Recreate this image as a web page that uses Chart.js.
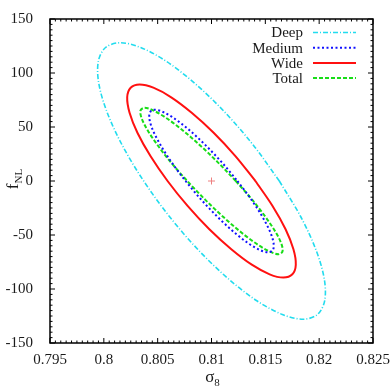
<!DOCTYPE html>
<html>
<head>
<meta charset="utf-8">
<title>sigma8 vs fNL</title>
<script src="https://cdn.jsdelivr.net/npm/chart.js@4.4.1/dist/chart.umd.min.js"></script>
<style>
  html, body { margin: 0; padding: 0; background: #fff; }
  #wrap { width: 390px; height: 389px; }
</style>
</head>
<body>
<div id="wrap"><canvas id="chart" width="390" height="389"></canvas></div>
<script>
// ===== data =====
const xTicks = [0.795, 0.8, 0.805, 0.81, 0.815, 0.82, 0.825];
const yTicks = [-150, -100, -50, 0, 50, 100, 150];
const seriesNames = ['Deep', 'Medium', 'Wide', 'Total'];

// fiducial point (+)
const fiducialX = [0.81];
const fiducialY = [0];

// contour points, traced clockwise from the right-hand fNL = 0 crossing
const deepX = [0.8163, 0.81829, 0.81971, 0.82047, 0.82051, 0.81984, 0.8185, 0.81658, 0.81421, 0.81156, 0.80879, 0.80611, 0.8037, 0.80171, 0.80029, 0.79953, 0.79949, 0.80016, 0.8015, 0.80342, 0.80579, 0.80844, 0.81121, 0.81389, 0.8163];
const deepY = [0, -33.1, -64.0, -90.5, -110.9, -123.6, -128.0, -123.6, -110.9, -90.5, -64.0, -33.1, 0, 33.1, 64.0, 90.5, 110.9, 123.6, 128.0, 123.6, 110.9, 90.5, 64.0, 33.1, 0];

const mediumX = [0.81241, 0.81369, 0.81472, 0.81543, 0.81576, 0.81571, 0.81526, 0.81446, 0.81335, 0.81201, 0.81054, 0.80903, 0.80759, 0.80631, 0.80528, 0.80457, 0.80424, 0.80429, 0.80474, 0.80554, 0.80665, 0.80799, 0.80946, 0.81097, 0.81241];
const mediumY = [0, -17.1, -33.0, -46.7, -57.2, -63.7, -66.0, -63.7, -57.2, -46.7, -33.0, -17.1, 0, 17.1, 33.0, 46.7, 57.2, 63.7, 66.0, 63.7, 57.2, 46.7, 33.0, 17.1, 0];

const wideX = [0.81408, 0.81567, 0.81688, 0.81761, 0.81783, 0.81751, 0.81668, 0.8154, 0.81374, 0.81184, 0.8098, 0.80778, 0.80592, 0.80433, 0.80312, 0.80239, 0.80217, 0.80249, 0.80332, 0.8046, 0.80626, 0.80816, 0.8102, 0.81222, 0.81408];
const wideY = [0, -23.1, -44.7, -63.2, -77.5, -86.4, -89.4, -86.4, -77.5, -63.2, -44.7, -23.1, 0, 23.1, 44.7, 63.2, 77.5, 86.4, 89.4, 86.4, 77.5, 63.2, 44.7, 23.1, 0];

const totalX = [0.81226, 0.81379, 0.81506, 0.81599, 0.81651, 0.81659, 0.81622, 0.81542, 0.81426, 0.8128, 0.81116, 0.80943, 0.80775, 0.80621, 0.80494, 0.80401, 0.80349, 0.80341, 0.80378, 0.80458, 0.80574, 0.8072, 0.80884, 0.81057, 0.81226];
const totalY = [0, -17.5, -33.9, -47.9, -58.7, -65.4, -67.8, -65.4, -58.7, -47.9, -33.9, -17.5, 0, 17.5, 33.9, 47.9, 58.7, 65.4, 67.8, 65.4, 58.7, 47.9, 33.9, 17.5, 0];

(function() {
  'use strict';

  const SERIF = '"Liberation Serif", "DejaVu Serif", serif';
  const INK = '#1a1a1a';

  function pts(xs, ys) {
    return xs.map((x, i) => ({ x: x, y: ys[i] }));
  }

  function contour(label, xs, ys, color, dash, width) {
    return {
      label: label,
      data: pts(xs, ys),
      showLine: true,
      borderColor: color,
      backgroundColor: color,
      borderWidth: width,
      borderDash: dash,
      tension: 0.33,
      pointRadius: 0,
      fill: false
    };
  }

  // ===== frame, inward ticks, legend, axis titles =====
  const decorPlugin = {
    id: 'decor',
    afterDatasetsDraw(chart) {
      const { ctx, chartArea: a, scales } = chart;
      const sx = scales.x, sy = scales.y;
      ctx.save();
      ctx.strokeStyle = '#000';
      ctx.lineWidth = 1;
      ctx.beginPath();
      for (let i = 0; i < xTicks.length; i++) {
        const px = sx.getPixelForValue(xTicks[i]);
        ctx.moveTo(px, a.bottom); ctx.lineTo(px, a.bottom - 5);
        ctx.moveTo(px, a.top); ctx.lineTo(px, a.top + 5);
        if (i < xTicks.length - 1) {
          const step = (xTicks[i + 1] - xTicks[i]) / 10;
          for (let k = 1; k < 10; k++) {
            const mx = sx.getPixelForValue(xTicks[i] + k * step);
            ctx.moveTo(mx, a.bottom); ctx.lineTo(mx, a.bottom - 2.5);
            ctx.moveTo(mx, a.top); ctx.lineTo(mx, a.top + 2.5);
          }
        }
      }
      for (let i = 0; i < yTicks.length; i++) {
        const py = sy.getPixelForValue(yTicks[i]);
        ctx.moveTo(a.left, py); ctx.lineTo(a.left + 5, py);
        ctx.moveTo(a.right, py); ctx.lineTo(a.right - 5, py);
        if (i < yTicks.length - 1) {
          const step = (yTicks[i + 1] - yTicks[i]) / 10;
          for (let k = 1; k < 10; k++) {
            const my = sy.getPixelForValue(yTicks[i] + k * step);
            ctx.moveTo(a.left, my); ctx.lineTo(a.left + 2.5, my);
            ctx.moveTo(a.right, my); ctx.lineTo(a.right - 2.5, my);
          }
        }
      }
      ctx.stroke();

      ctx.lineWidth = 1.5;
      ctx.strokeRect(a.left, a.top, a.right - a.left, a.bottom - a.top);

      // legend
      ctx.font = '15px ' + SERIF;
      ctx.fillStyle = INK;
      ctx.textAlign = 'right';
      ctx.textBaseline = 'middle';
      seriesNames.forEach((name, i) => {
        const ds = chart.data.datasets[i];
        const ly = a.top + 13.5 + i * 15.2;
        ctx.fillText(name, a.right - 70, ly + 1);
        ctx.save();
        ctx.strokeStyle = ds.borderColor;
        ctx.lineWidth = ds.borderWidth;
        ctx.setLineDash(ds.borderDash || []);
        ctx.beginPath();
        ctx.moveTo(a.right - 60, ly);
        ctx.lineTo(a.right - 17, ly);
        ctx.stroke();
        ctx.restore();
      });
      ctx.restore();
    },
    afterDraw(chart) {
      const { ctx, chartArea: a } = chart;
      ctx.save();
      ctx.fillStyle = INK;
      ctx.textBaseline = 'alphabetic';
      ctx.textAlign = 'left';
      // x title: sigma_8
      const cx = (a.left + a.right) / 2;
      ctx.font = '17px ' + SERIF;
      const sw = ctx.measureText('σ').width;
      ctx.font = '11px ' + SERIF;
      const ew = ctx.measureText('8').width;
      const x0 = cx - (sw + ew) / 2 + 1;
      ctx.font = '17px ' + SERIF;
      ctx.fillText('σ', x0, 382);
      ctx.font = '11px ' + SERIF;
      ctx.fillText('8', x0 + sw, 386);
      // y title: f_NL, rotated
      ctx.translate(18, (a.top + a.bottom) / 2 - 2);
      ctx.rotate(-Math.PI / 2);
      ctx.font = '17px ' + SERIF;
      const fw = ctx.measureText('f').width;
      ctx.font = '11px ' + SERIF;
      const nw = ctx.measureText('NL').width;
      const y0 = -(fw + nw) / 2;
      ctx.font = '17px ' + SERIF;
      ctx.fillText('f', y0, 0);
      ctx.font = '11px ' + SERIF;
      ctx.fillText('NL', y0 + fw, 4);
      ctx.restore();
    }
  };

  // ===== chart =====
  const ctx = document.getElementById('chart').getContext('2d');
  new Chart(ctx, {
    type: 'scatter',
    data: {
      datasets: [
        contour(seriesNames[0], deepX, deepY, '#22dcee', [5, 2, 1, 2], 1.6),
        contour(seriesNames[1], mediumX, mediumY, '#1010ff', [2, 2.5], 2),
        contour(seriesNames[2], wideX, wideY, '#ff1010', [], 2),
        contour(seriesNames[3], totalX, totalY, '#18dd18', [4, 2], 2),
        {
          label: 'fiducial',
          data: pts(fiducialX, fiducialY),
          pointStyle: 'cross',
          pointRadius: 3.5,
          borderColor: '#ee8080',
          borderWidth: 1,
          showLine: false
        }
      ]
    },
    options: {
      responsive: false,
      devicePixelRatio: 1,
      animation: false,
      events: [],
      layout: { padding: { top: 19, right: 17, left: 0, bottom: 0 }, autoPadding: false },
      plugins: { legend: { display: false }, tooltip: { enabled: false } },
      scales: {
        x: {
          type: 'linear',
          min: 0.795,
          max: 0.825,
          afterFit(scale) { scale.height = 46; },
          afterBuildTicks(scale) { scale.ticks = xTicks.map(v => ({ value: v })); },
          grid: { display: false },
          border: { display: false },
          ticks: {
            autoSkip: false,
            maxRotation: 0,
            padding: 0,
            color: INK,
            font: { family: SERIF, size: 15 },
            callback: v => String(Number(v.toFixed(3)))
          }
        },
        y: {
          type: 'linear',
          min: -150,
          max: 150,
          afterFit(scale) { scale.width = 50; },
          afterBuildTicks(scale) { scale.ticks = yTicks.map(v => ({ value: v })); },
          grid: { display: false },
          border: { display: false },
          ticks: {
            autoSkip: false,
            padding: 9,
            color: INK,
            font: { family: SERIF, size: 15 }
          }
        }
      }
    },
    plugins: [decorPlugin]
  });
})();
</script>
</body>
</html>
